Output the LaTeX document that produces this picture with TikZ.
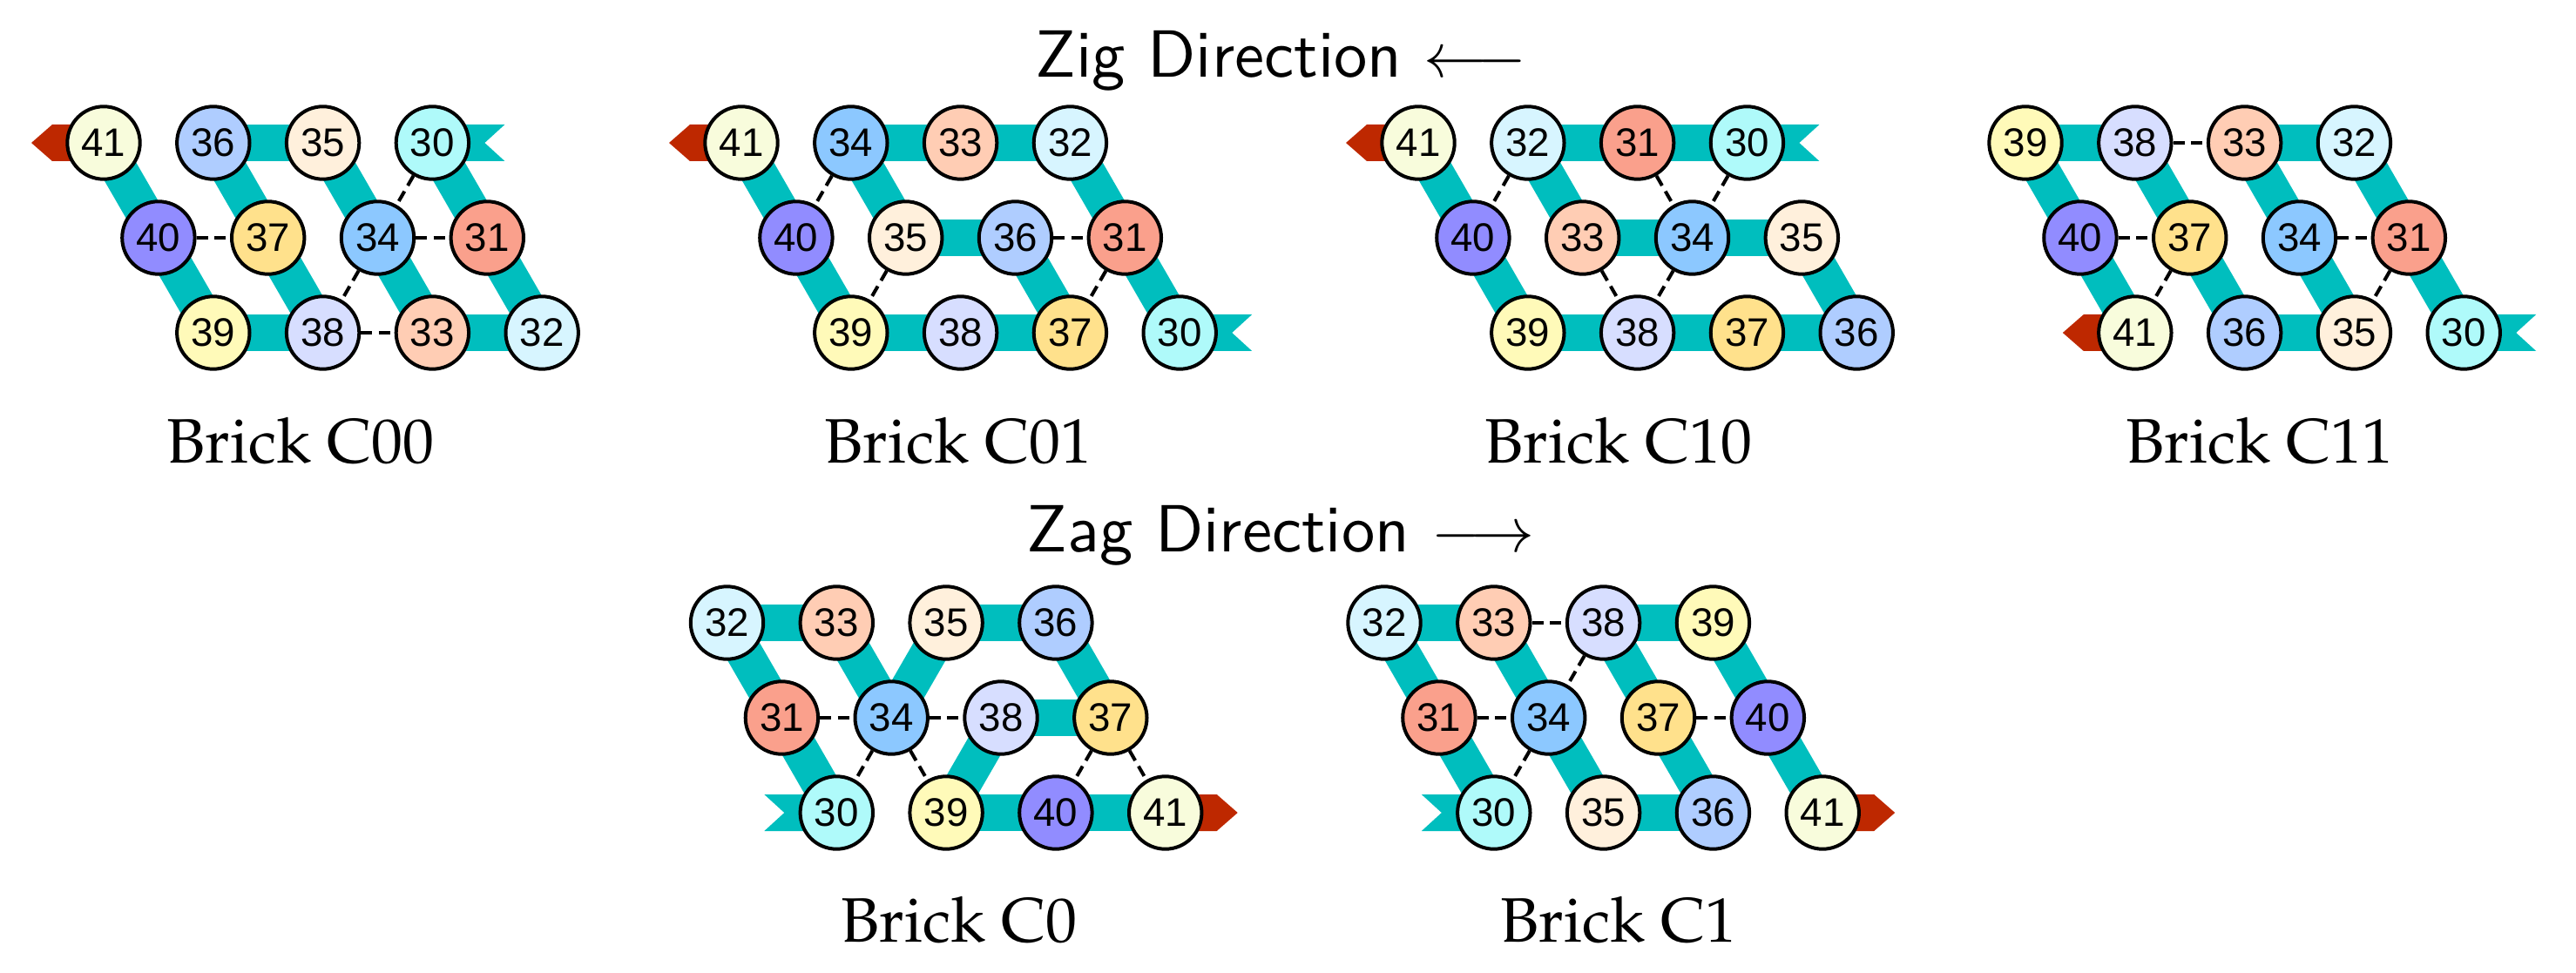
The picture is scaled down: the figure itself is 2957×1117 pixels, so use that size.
\documentclass[tikz,border=0pt]{standalone}
\usepackage[T1]{fontenc}
\usepackage{fontspec}
\newfontfamily\numfont{Liberation Sans}
\newfontfamily\tensans{lmsans10-regular}[Extension=.otf]
\pgfdeclarelayer{bg}
\pgfsetlayers{bg,main}
\definecolor{c30}{RGB}{175,250,250}
\definecolor{c31}{RGB}{250,160,140}
\definecolor{c32}{RGB}{215,245,255}
\definecolor{c33}{RGB}{255,205,180}
\definecolor{c34}{RGB}{140,200,255}
\definecolor{c35}{RGB}{255,240,220}
\definecolor{c36}{RGB}{175,205,255}
\definecolor{c37}{RGB}{255,225,140}
\definecolor{c38}{RGB}{215,222,255}
\definecolor{c39}{RGB}{255,250,185}
\definecolor{c40}{RGB}{145,140,255}
\definecolor{c41}{RGB}{248,252,220}
\definecolor{bandc}{RGB}{0,190,190}
\definecolor{arrc}{RGB}{190,40,0}
\tikzset{
  ball/.style={circle,draw=black,line width=0.4mm,minimum size=8.34mm,inner sep=0pt,
    font=\numfont\fontsize{13}{13}\selectfont},
  band/.style={draw=bandc,line width=4.2mm},
  contact/.style={draw=black,line width=0.4mm,dash pattern=on 1.3mm off 0.75mm},
  bricklabel/.style={anchor=base,inner sep=0pt,
    font=\fontencoding{T1}\fontfamily{ppl}\fontsize{20.5}{24}\selectfont},
  dirlabel/.style={anchor=base west,inner sep=0pt,font=\tensans\fontsize{21.8}{26}\selectfont}
}
% #1 prefix, #2 x0, #3 y0, #4 row0, #5 row1, #6 row2, #7 dashed pairs, #8 tail dir, #9 arrow dir
\newcommand\mkbrick[9]{%
  \foreach \n [count=\c from 0] in {#4} {\node[ball,fill=c\n] (#1\n) at ({#2+\c*125.8},{#3}) {\n};}
  \foreach \n [count=\c from 0] in {#5} {\node[ball,fill=c\n] (#1\n) at ({#2+\c*125.8+62.9},{#3+109}) {\n};}
  \foreach \n [count=\c from 0] in {#6} {\node[ball,fill=c\n] (#1\n) at ({#2+\c*125.8+125.8},{#3+218}) {\n};}
  \foreach \a/\b in {#7} {\draw[contact] (#1\a) -- (#1\b);}
  \begin{pgfonlayer}{bg}
    \foreach \i in {30,...,40} {\pgfmathtruncatemacro\j{\i+1}\draw[band] (#1\i.center) -- (#1\j.center);}
    \fill[bandc] (#130.center) ++(0,-21) -- ++({(#8)*83},0) -- ++({-(#8)*23},21) -- ++({(#8)*23},21) -- ++({-(#8)*83},0) -- cycle;
    \fill[arrc] (#141.center) ++(0,-21) -- ++({(#9)*59},0) -- ++({(#9)*24},21) -- ++({-(#9)*24},21) -- ++({-(#9)*59},0) -- cycle;
  \end{pgfonlayer}
}
\begin{document}
\begin{tikzpicture}[x=0.1mm,y=-0.1mm]
\useasboundingbox (0,0) rectangle (2957,1117);
\mkbrick{A}{119}{164}{41,36,35,30}{40,37,34,31}{39,38,33,32}{40/37,34/31,30/34,34/38,38/33}{1}{-1}
\mkbrick{B}{851}{164}{41,34,33,32}{40,35,36,31}{39,38,37,30}{34/40,35/39,36/31,31/37}{1}{-1}
\mkbrick{C}{1628}{164}{41,32,31,30}{40,33,34,35}{39,38,37,36}{32/40,31/34,30/34,33/38,34/38}{1}{-1}
\mkbrick{D}{2325}{164}{39,38,33,32}{40,37,34,31}{41,36,35,30}{38/33,40/37,34/31,37/41,31/35}{1}{-1}
\mkbrick{E}{834.5}{715}{32,33,35,36}{31,34,38,37}{30,39,40,41}{31/34,34/38,34/30,34/39,37/40,37/41}{-1}{1}
\mkbrick{F}{1589}{715}{32,33,38,39}{31,34,37,40}{30,35,36,41}{33/38,31/34,38/34,37/40,34/30}{-1}{1}
\node[dirlabel] (zig) at (1188,88.3) {Zig Direction $\longleftarrow$};
\node[dirlabel] (zag) at (1178,633.3) {Zag Direction $\longrightarrow$};
\node[bricklabel] (lA) at (345,531.7) {Brick C00};
\node[bricklabel] (lB) at (1100,531.7) {Brick C01};
\node[bricklabel] (lC) at (1858,531.7) {Brick C10};
\node[bricklabel] (lD) at (2594,531.7) {Brick C11};
\node[bricklabel] (lE) at (1101,1081.7) {Brick C0};
\node[bricklabel] (lF) at (1858,1081.7) {Brick C1};
\end{tikzpicture}
\end{document}
